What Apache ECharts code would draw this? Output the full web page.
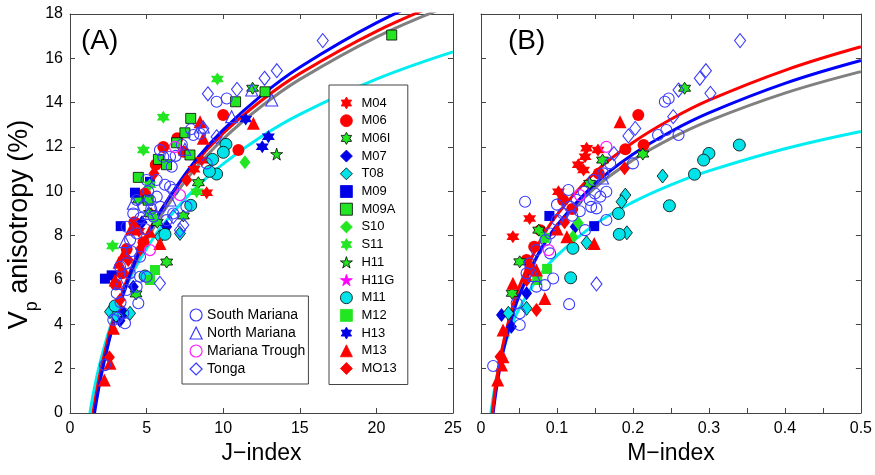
<!DOCTYPE html>
<html><head><meta charset="utf-8">
<script src="https://cdn.jsdelivr.net/npm/echarts@6/dist/echarts.min.js"></script>
<style>html,body{margin:0;padding:0;background:#fff}#c{width:875px;height:475px}</style>
</head><body><div id="c"></div>
<script>
// ---------- categories ----------
const sampleNames = ['M04','M06','M06I','M07','T08','M09','M09A','S10','S11','H11','H11G','M11','M12','H13','M13','MO13'];
const groupNames = ['South Mariana','North Mariana','Mariana Trough','Tonga'];

// ---------- axis ticks ----------
const jTicks = [0, 25, 5];
const mTicks = [0, 0.5, 0.05];
const vTicks = [0, 18, 2];

// ---------- fit curves, panel A (J-index, Vp %) ----------
const fitA_red  = [[1.5,0],[1.75,1.03],[2,1.91],[2.5,3.40],[3,4.61],[4,6.52],[5,8.01],[6,9.22],[8,11.13],[10,12.62],[12.5,14.10],[15,15.31],[20,17.22],[25,18.71]];
const fitA_blue = [[1.6,0],[1.8,0.82],[2,1.56],[2.5,3.11],[3,4.38],[4,6.39],[5,7.94],[6,9.21],[8,11.22],[10,12.77],[12.5,14.33],[15,15.60],[20,17.60],[25,19.16]];
const fitA_gray = [[1.55,0],[1.75,0.80],[2,1.69],[2.5,3.17],[3,4.38],[4,6.29],[5,7.76],[6,8.98],[8,10.88],[10,12.36],[12.5,13.84],[15,15.05],[20,16.96],[25,18.44]];
const fitA_cyan = [[1.3,0],[1.5,0.79],[1.75,1.64],[2,2.37],[2.5,3.60],[3,4.61],[4,6.19],[5,7.42],[6,8.43],[8,10.01],[10,11.24],[12.5,12.47],[15,13.47],[20,15.06],[25,16.29]];
// ---------- fit curves, panel B (M-index, Vp %) ----------
const fitB_red  = [[0.015,0],[0.0175,0.73],[0.02,1.36],[0.025,2.41],[0.03,3.26],[0.04,4.62],[0.05,5.67],[0.075,7.58],[0.1,8.94],[0.15,10.85],[0.2,12.20],[0.25,13.25],[0.3,14.11],[0.4,15.46],[0.5,16.52]];
const fitB_blue = [[0.016,0],[0.0175,0.41],[0.02,1.03],[0.025,2.06],[0.03,2.90],[0.04,4.23],[0.05,5.26],[0.075,7.14],[0.1,8.47],[0.15,10.34],[0.2,11.67],[0.25,12.70],[0.3,13.54],[0.4,14.87],[0.5,15.90]];
const fitB_gray = [[0.0145,0],[0.0175,0.82],[0.02,1.40],[0.025,2.37],[0.03,3.16],[0.04,4.41],[0.05,5.38],[0.075,7.15],[0.1,8.40],[0.15,10.16],[0.2,11.41],[0.25,12.39],[0.3,13.18],[0.4,14.43],[0.5,15.40]];
const fitB_cyan = [[0.013,0],[0.0175,1.03],[0.02,1.50],[0.025,2.28],[0.03,2.91],[0.04,3.91],[0.05,4.69],[0.075,6.10],[0.1,7.10],[0.15,8.51],[0.2,9.51],[0.25,10.29],[0.3,10.92],[0.4,11.92],[0.5,12.70]];

// ---------- panel A points (J-index, Vp anisotropy %) ----------
const A_M04  = [[8.92,9.94],[8.1,11.0],[8.6,11.4],[5.3,9.0],[4.5,8.2]];
const A_M06  = [[10.0,13.44],[10.99,11.86],[6.09,12.0],[7.4,11.79],[5.6,11.2],[7.0,12.4],[4.9,9.9],[4.2,8.6],[3.7,7.4],[3.4,6.3],[4.8,7.7],[3.0,5.8],[3.3,4.6]];
const A_M06I = [[11.92,14.65],[8.38,10.39],[7.4,8.89],[6.31,6.81],[4.31,5.37],[4.46,9.61],[5.2,9.0],[5.7,8.6]];
const A_M07  = [[3.26,4.16],[4.13,5.7],[6.31,8.4],[3.5,4.5],[4.7,8.6]];
const A_T08  = [[7.18,8.1],[2.61,4.57],[3.92,4.5],[5.87,7.95],[3.0,4.4]];
const A_M09  = [[4.24,9.94],[3.31,8.43],[2.28,6.06],[2.72,6.21],[5.22,10.43]];
const A_M09A = [[21.0,17.05],[12.73,14.49],[10.81,14.04],[7.88,13.29],[7.5,12.64],[7.83,11.64],[6.96,12.19],[5.77,11.44],[4.46,10.63],[6.3,11.2],[5.1,9.6]];
const A_S10  = [[11.42,11.31],[5.5,8.8]];
const A_S11  = [[9.62,15.07],[6.09,13.34],[4.79,11.86],[2.78,7.53],[8.27,9.98],[5.2,10.3]];
const A_H11  = [[13.49,11.68]];
const A_H11G = [];
const A_M11  = [[10.18,12.12],[10.01,11.76],[9.31,11.44],[9.57,10.78],[7.88,9.37],[6.2,8.06],[4.9,6.18],[2.94,4.83],[9.1,10.9]];
const A_M12  = [[5.55,6.45],[5.22,6.0]];
const A_H13  = [[11.47,13.26],[12.55,12.01],[12.95,12.46]];
const A_M13  = [[11.97,13.07],[8.49,13.14],[5.87,7.65],[3.48,7.13],[2.83,3.82],[2.61,2.24],[2.24,1.49],[8.7,12.39],[2.94,6.0],[4.0,8.3],[3.2,6.8],[5.2,8.2]];
const A_MO13 = [[7.62,10.51],[5.48,10.81],[2.57,2.51],[3.26,5.1],[3.8,6.9],[4.6,7.4]];
const A_South  = [[9.57,14.04],[10.23,14.19],[8.49,12.6],[8.05,12.54],[8.92,11.26],[6.53,11.56],[5.87,11.86],[6.09,11.56],[6.64,11.11],[6.53,10.21],[5.66,9.76],[5.22,9.61],[4.79,9.31],[4.35,9.61],[4.13,9.0],[3.7,8.4],[4.35,8.1],[3.92,7.8],[4.57,7.05],[3.7,6.75],[3.26,6.6],[4.57,6.15],[5.0,6.15],[4.35,5.7],[3.7,5.55],[3.05,5.4],[4.46,4.95],[3.48,4.5],[2.83,4.2],[3.59,4.05],[2.28,2.16],[6.74,9.0],[6.31,8.7],[6.74,10.06],[5.44,8.86],[5.66,10.51],[5.0,10.51],[7.6,9.31],[7.9,12.8],[5.3,9.2],[4.9,8.3],[4.0,7.3],[3.3,5.0],[3.1,4.3],[5.9,9.3],[6.2,10.3],[5.1,10.0],[4.6,8.8],[3.9,6.3],[6.9,11.6],[7.3,12.1]];
const A_North  = [[13.17,14.12],[10.55,13.37],[11.86,14.57],[8.7,12.9],[4.13,9.46],[3.59,7.73],[3.26,5.85],[6.53,9.61],[5.1,9.0],[7.5,11.9]];
const A_Trough = [[6.85,12.0],[7.18,9.83],[5.22,7.35]];
const A_Tonga  = [[16.5,16.8],[12.7,15.1],[13.5,15.44],[10.9,14.6],[9.0,14.4],[9.57,12.46],[8.7,12.84],[5.87,5.85],[7.18,8.25],[7.4,8.48],[6.74,8.86]];

// ---------- panel B points (M-index, Vp anisotropy %) ----------
const B_M04  = [[0.042,7.95],[0.064,8.78],[0.102,9.98],[0.135,10.96],[0.137,11.56],[0.139,11.94],[0.154,11.86],[0.128,11.2]];
const B_M06  = [[0.207,13.44],[0.214,12.09],[0.108,9.61],[0.078,8.25],[0.060,6.9],[0.065,6.5],[0.19,11.9],[0.155,10.8],[0.12,9.2],[0.07,7.5]];
const B_M06I = [[0.268,14.65],[0.213,11.68],[0.160,11.41],[0.143,10.36],[0.076,8.25],[0.051,6.82],[0.041,5.40]];
const B_M07  = [[0.027,4.42],[0.040,3.89],[0.124,8.4],[0.06,5.4]];
const B_T08  = [[0.239,10.69],[0.190,9.83],[0.185,9.53],[0.192,8.13],[0.139,7.68],[0.036,4.5],[0.060,4.72]];
const B_M09  = [[0.090,8.89],[0.149,8.43]];
const B_M09A = [];
const B_S10  = [[0.128,8.57],[0.121,7.94]];
const B_S11  = [];
const B_H11  = [];
const B_H11G = [];
const B_M11  = [[0.340,12.09],[0.300,11.71],[0.293,11.41],[0.281,10.77],[0.248,9.35],[0.181,9.0],[0.182,8.06],[0.121,7.43],[0.118,6.10]];
const B_M12  = [[0.087,6.5],[0.084,7.9],[0.074,6.0]];
const B_H13  = [];
const B_M13  = [[0.183,13.14],[0.149,7.65],[0.084,5.17],[0.029,3.74],[0.027,2.16],[0.022,1.49],[0.029,2.54],[0.113,7.95],[0.073,6.45],[0.042,5.85],[0.1,8.3]];
const B_MO13 = [[0.073,4.65],[0.189,11.04],[0.025,2.54],[0.06,6.0],[0.11,8.6]];
const B_South  = [[0.242,14.04],[0.247,14.19],[0.260,12.54],[0.244,12.77],[0.233,12.54],[0.200,11.26],[0.058,9.53],[0.116,4.91],[0.016,2.12],[0.165,8.71],[0.152,9.23],[0.143,9.61],[0.157,9.76],[0.165,9.98],[0.135,9.98],[0.126,9.61],[0.108,9.0],[0.100,8.71],[0.091,8.1],[0.073,7.35],[0.064,6.75],[0.060,6.3],[0.073,5.7],[0.084,5.77],[0.095,6.07],[0.047,4.95],[0.051,4.5],[0.051,3.97],[0.161,10.81],[0.170,11.26],[0.148,10.51],[0.115,10.06],[0.117,9.31],[0.137,8.25],[0.091,7.2],[0.13,9.1],[0.12,8.9],[0.145,9.3],[0.085,7.8],[0.1,9.4],[0.15,9.9]];
const B_North  = [[0.16,10.6],[0.07,6.2]];
const B_Trough = [[0.165,12.01],[0.130,9.83],[0.089,7.35]];
const B_Tonga  = [[0.341,16.8],[0.296,15.44],[0.288,15.1],[0.302,14.42],[0.260,14.57],[0.253,13.37],[0.203,12.84],[0.194,12.5],[0.152,5.82],[0.175,11.7]];

const panelA = {M04:A_M04,M06:A_M06,M06I:A_M06I,M07:A_M07,T08:A_T08,M09:A_M09,M09A:A_M09A,S10:A_S10,S11:A_S11,H11:A_H11,H11G:A_H11G,M11:A_M11,M12:A_M12,H13:A_H13,M13:A_M13,MO13:A_MO13,
  'South Mariana':A_South,'North Mariana':A_North,'Mariana Trough':A_Trough,'Tonga':A_Tonga};
const panelB = {M04:B_M04,M06:B_M06,M06I:B_M06I,M07:B_M07,T08:B_T08,M09:B_M09,M09A:B_M09A,S10:B_S10,S11:B_S11,H11:B_H11,H11G:B_H11G,M11:B_M11,M12:B_M12,H13:B_H13,M13:B_M13,MO13:B_MO13,
  'South Mariana':B_South,'North Mariana':B_North,'Mariana Trough':B_Trough,'Tonga':B_Tonga};

// ---------- styles ----------
const HEX = 'path://M0,-10 L2.885,-5 L8.66,-5 L5.77,0 L8.66,5 L2.885,5 L0,10 L-2.885,5 L-8.66,5 L-5.77,0 L-8.66,-5 L-2.885,-5 Z';
const STAR5 = 'path://M0,-10 L2.245,-3.09 L9.51,-3.09 L3.633,1.18 L5.878,8.09 L0,3.82 L-5.878,8.09 L-3.633,1.18 L-9.51,-3.09 L-2.245,-3.09 Z';
const RED='#ff0000', BLUE='#0000e6', GREEN='#22e622', CYAN='#00e3e8', OPEN='#3b3bff';
const NONE='rgba(0,0,0,0)';
const styles = {
  'M04':  {symbol:HEX, size:13, fill:RED},
  'M06':  {symbol:'circle', size:12, fill:RED},
  'M06I': {symbol:HEX, size:12, fill:GREEN, stroke:'#000', bw:0.8},
  'M07':  {symbol:'diamond', size:[11,14], fill:BLUE},
  'T08':  {symbol:'diamond', size:[11,14], fill:CYAN, stroke:'#000', bw:0.8},
  'M09':  {symbol:'rect', size:10, fill:BLUE},
  'M09A': {symbol:'rect', size:10, fill:GREEN, stroke:'#000', bw:0.8},
  'S10':  {symbol:'diamond', size:[11,14], fill:GREEN},
  'S11':  {symbol:HEX, size:13, fill:GREEN},
  'H11':  {symbol:STAR5, size:12, fill:GREEN, stroke:'#000', bw:0.8},
  'H11G': {symbol:STAR5, size:14, fill:'#ff00ff'},
  'M11':  {symbol:'circle', size:12, fill:CYAN, stroke:'#000', bw:0.8},
  'M12':  {symbol:'rect', size:10, fill:GREEN},
  'H13':  {symbol:HEX, size:13, fill:BLUE},
  'M13':  {symbol:'triangle', size:13, fill:RED},
  'MO13': {symbol:'diamond', size:[11,14], fill:RED},
  'South Mariana':  {symbol:'circle', size:11, fill:NONE, stroke:OPEN, bw:1.1},
  'North Mariana':  {symbol:'triangle', size:12, fill:NONE, stroke:OPEN, bw:1.1},
  'Mariana Trough': {symbol:'circle', size:11, fill:NONE, stroke:'#ff22ff', bw:1.3},
  'Tonga':          {symbol:'diamond', size:[11,14], fill:NONE, stroke:OPEN, bw:1.1}
};

const FONT = '"Liberation Sans", Arial, Helvetica, sans-serif';
const AX = '#444';

function scatterSeries(name, data, g) {
  const s = styles[name];
  return {
    type:'scatter', name:name, data:data, xAxisIndex:g*2, yAxisIndex:g*2,
    symbol:s.symbol, symbolSize:s.size,
    itemStyle:{color:s.fill, borderColor:s.stroke || s.fill, borderWidth:s.bw || 0, opacity:1},
    emphasis:{disabled:true}, z:3, silent:true
  };
}
function lineSeries(data, g, color) {
  return {type:'line', data:data, xAxisIndex:g*2, yAxisIndex:g*2, smooth:0.4, showSymbol:false, symbol:'none',
    lineStyle:{color:color, width:3}, z:2, silent:true, clip:true};
}

function axisBase(min, max, interval) {
  return {type:'value', min:min, max:max, interval:interval,
    axisLine:{show:true, onZero:false, lineStyle:{color:AX, width:1}},
    axisTick:{show:true, inside:true, length:5, lineStyle:{color:AX}},
    splitLine:{show:false}};
}
function labelStyle(extra) {
  return Object.assign({show:true, color:'#000', fontSize:16, fontFamily:FONT, margin:8, showMinLabel:true, showMaxLabel:true}, extra || {});
}
const hidden = {show:false};
const mFmt = function (v) { const t = Math.round(v * 100); if (t % 10 !== 0) return ''; return t === 0 ? '0' : String(t / 100); };

const xAxes = [
  Object.assign(axisBase(jTicks[0], jTicks[1], jTicks[2]), {gridIndex:0, position:'bottom', axisLabel:labelStyle(),
    name:'J\u2212index', nameLocation:'middle', nameGap:29, nameTextStyle:{fontSize:23, fontFamily:FONT, color:'#000'}}),
  Object.assign(axisBase(jTicks[0], jTicks[1], jTicks[2]), {gridIndex:0, position:'top', axisLabel:hidden}),
  Object.assign(axisBase(mTicks[0], mTicks[1], mTicks[2]), {gridIndex:1, position:'bottom', axisLabel:labelStyle({formatter:mFmt}),
    name:'M\u2212index', nameLocation:'middle', nameGap:29, nameTextStyle:{fontSize:23, fontFamily:FONT, color:'#000'}}),
  Object.assign(axisBase(mTicks[0], mTicks[1], mTicks[2]), {gridIndex:1, position:'top', axisLabel:hidden})
];
const yAxes = [
  Object.assign(axisBase(vTicks[0], vTicks[1], vTicks[2]), {gridIndex:0, position:'left', axisLabel:labelStyle({margin:7}),
    name:'{a|V}{b|p}{a| anisotropy (%)}{c|}', nameLocation:'middle', nameGap:23,
    nameTextStyle:{color:'#000', fontFamily:FONT, rich:{
      a:{fontSize:27, fontFamily:FONT, color:'#000', lineHeight:44, verticalAlign:'middle'},
      b:{fontSize:18, fontFamily:FONT, color:'#000', lineHeight:18, verticalAlign:'bottom'},
      c:{width:22, lineHeight:44}}}}),
  Object.assign(axisBase(vTicks[0], vTicks[1], vTicks[2]), {gridIndex:0, position:'right', axisLabel:hidden}),
  Object.assign(axisBase(vTicks[0], vTicks[1], vTicks[2]), {gridIndex:1, position:'left', axisLabel:hidden}),
  Object.assign(axisBase(vTicks[0], vTicks[1], vTicks[2]), {gridIndex:1, position:'right', axisLabel:hidden})
];

const series = [
  lineSeries(fitA_cyan, 0, '#00eef2'), lineSeries(fitA_gray, 0, '#808080'), lineSeries(fitA_red, 0, '#ff0000'), lineSeries(fitA_blue, 0, '#0000ff'),
  lineSeries(fitB_cyan, 1, '#00eef2'), lineSeries(fitB_gray, 1, '#808080'), lineSeries(fitB_blue, 1, '#0000ff'), lineSeries(fitB_red, 1, '#ff0000')
];
sampleNames.concat(groupNames).forEach(function (n) {
  series.push(scatterSeries(n, panelA[n], 0));
  series.push(scatterSeries(n, panelB[n], 1));
});

const chart = echarts.init(document.getElementById('c'), null, {renderer:'canvas'});
chart.setOption({
  animation:false,
  backgroundColor:'#fff',
  textStyle:{fontFamily:FONT},
  title:[
    {text:'(A)', left:76, top:22, textStyle:{fontSize:28, fontWeight:'normal', fontFamily:FONT, color:'#000'}},
    {text:'(B)', left:503, top:22, textStyle:{fontSize:28, fontWeight:'normal', fontFamily:FONT, color:'#000'}}
  ],
  grid:[
    {left:70, top:14, width:383, height:399},
    {left:481, top:14, width:380, height:399}
  ],
  xAxis:xAxes, yAxis:yAxes,
  legend:[
    {data:sampleNames, orient:'vertical', left:329, top:85, itemWidth:12, itemHeight:12, itemGap:3.7,
     padding:[11,11,9,11], borderColor:'#444', borderWidth:1, backgroundColor:'#fff', selectedMode:false,
     itemStyle:{borderWidth:0.8},
     textStyle:{fontSize:13, lineHeight:14, color:'#000', fontFamily:FONT, padding:[0,0,0,4]}},
    {data:groupNames, orient:'vertical', left:182, top:296, itemWidth:12, itemHeight:12, itemGap:2,
     padding:[11,3,7,7.5], borderColor:'#444', borderWidth:1, backgroundColor:'#fff', selectedMode:false,
     itemStyle:{borderWidth:1.2},
     textStyle:{fontSize:14, lineHeight:16, color:'#000', fontFamily:FONT}}
  ],
  series:series
});
</script></body></html>
